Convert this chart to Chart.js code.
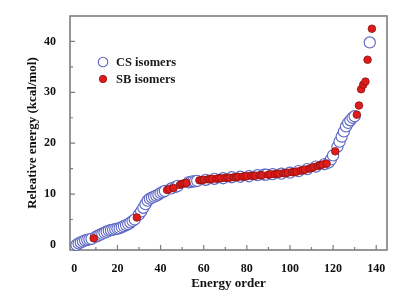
<!DOCTYPE html>
<html>
<head>
<meta charset="utf-8">
<script src="https://cdn.jsdelivr.net/npm/chart.js@4.4.1/dist/chart.umd.min.js"></script>
<style>
  html, body { margin: 0; padding: 0; background: #fff; }
  #wrap { width: 399px; height: 300px; }
</style>
</head>
<body>
<div id="wrap"><canvas id="chart" width="399" height="300"></canvas></div>
<script>
// Energy order of each isomer and its relative energy (kcal/mol)
const csOrder = [1, 2, 3, 4, 5, 6, 7, 8,
    10, 11, 12, 13, 14, 15, 16, 17, 18, 19, 20, 21, 22, 23, 24, 25, 26, 27, 28,
    30, 31, 32, 33, 34, 35, 36, 37, 38, 39, 40, 41, 42,
    45, 47, 48, 53, 54, 55, 56, 57,
    61, 65, 69, 73, 77, 81, 85, 88, 89, 92, 96, 100, 104, 108, 112, 116,
    118, 119, 120, 122, 123, 124, 125, 126, 127, 128, 129, 130, 137];
const csEnergy = [0.0, 0.3, 0.5, 0.7, 0.9, 1.0, 1.1, 1.2,
    1.6, 1.8, 2.0, 2.2, 2.4, 2.6, 2.8, 2.9, 3.0, 3.1, 3.2, 3.3, 3.5, 3.7, 3.9, 4.1, 4.4, 4.7, 5.0,
    6.0, 6.6, 7.3, 8.0, 8.7, 9.1, 9.3, 9.5, 9.7, 9.9, 10.2, 10.4, 10.6,
    11.1, 11.4, 11.6, 12.3, 12.4, 12.5, 12.5, 12.6,
    12.8, 13.0, 13.1, 13.3, 13.4, 13.5, 13.7, 13.8, 13.8, 13.9, 14.0, 14.2, 14.5, 14.9, 15.4, 15.9,
    16.2, 16.8, 17.6, 19.3, 20.3, 21.3, 22.3, 23.3, 24.0, 24.5, 25.0, 25.3, 39.8];

const sbOrder = [9, 29, 43, 44, 46, 49, 50, 51, 52,
    58, 59, 60, 62, 63, 64, 66, 67, 68, 70, 71, 72, 74, 75, 76, 78, 79, 80,
    82, 83, 84, 86, 87, 90, 91, 93, 94, 95, 97, 98, 99, 101, 102, 103,
    105, 106, 107, 109, 110, 111, 113, 114, 115, 117, 121,
    131, 132, 133, 134, 135, 136, 138];
const sbEnergy = [1.3, 5.4, 10.8, 11.0, 11.2, 11.8, 12.0, 12.1, 12.2,
    12.7, 12.7, 12.8, 12.9, 12.9, 13.0, 13.0, 13.1, 13.1, 13.2, 13.2, 13.2, 13.3, 13.3, 13.4, 13.4, 13.5, 13.5,
    13.6, 13.6, 13.6, 13.7, 13.7, 13.8, 13.9, 13.9, 14.0, 14.0, 14.1, 14.1, 14.2, 14.3, 14.3, 14.4,
    14.6, 14.7, 14.8, 15.0, 15.1, 15.3, 15.5, 15.7, 15.8, 16.0, 18.4,
    25.6, 27.4, 30.6, 31.5, 32.1, 36.4, 42.5];

// Tick marks
const xTicks = [0, 20, 40, 60, 80, 100, 120, 140];
const xMinor = [10, 30, 50, 70, 90, 110, 130];
const yTicks = [0, 10, 20, 30, 40];
const yMinor = [5, 15, 25, 35];

const serif = "'Liberation Serif', 'DejaVu Serif', serif";

// Frame round the plot with tick marks pointing inwards
const framePlugin = {
    id: 'frame',
    beforeDatasetsDraw(chart) {
        const { ctx, chartArea: a, scales: { x, y } } = chart;
        ctx.save();
        ctx.strokeStyle = '#7d7d7d';
        ctx.lineWidth = 1.6;
        ctx.strokeRect(a.left, a.top, a.right - a.left, a.bottom - a.top);
        ctx.lineWidth = 1.2;
        ctx.beginPath();
        xTicks.forEach(v => { const p = x.getPixelForValue(v); ctx.moveTo(p, a.bottom); ctx.lineTo(p, a.bottom - 5); });
        xMinor.forEach(v => { const p = x.getPixelForValue(v); ctx.moveTo(p, a.bottom); ctx.lineTo(p, a.bottom - 3); });
        yTicks.forEach(v => { const p = y.getPixelForValue(v); ctx.moveTo(a.left, p); ctx.lineTo(a.left + 5, p); });
        yMinor.forEach(v => { const p = y.getPixelForValue(v); ctx.moveTo(a.left, p); ctx.lineTo(a.left + 3, p); });
        ctx.stroke();
        ctx.restore();
    }
};

// Legend inside the plot, upper left
const legendPlugin = {
    id: 'innerLegend',
    afterDraw(chart) {
        const ctx = chart.ctx;
        ctx.save();
        ctx.textBaseline = 'middle';

        ctx.beginPath();
        ctx.arc(103, 62, 4.8, 0, Math.PI * 2);
        ctx.fillStyle = '#fff';
        ctx.fill();
        ctx.strokeStyle = '#5a64c2';
        ctx.lineWidth = 1.1;
        ctx.stroke();

        ctx.beginPath();
        ctx.arc(103, 79, 3.7, 0, Math.PI * 2);
        ctx.fillStyle = '#e01b1b';
        ctx.fill();
        ctx.strokeStyle = '#8a1010';
        ctx.lineWidth = 0.8;
        ctx.stroke();

        ctx.font = 'bold 12.5px ' + serif;
        ctx.fillStyle = '#1a1a1a';
        ctx.fillText('CS isomers', 116, 63);
        ctx.fillText('SB isomers', 116, 80);
        ctx.restore();
    }
};

const toPoints = (xs, ys) => xs.map((v, i) => ({ x: v, y: ys[i] }));

new Chart(document.getElementById('chart'), {
    type: 'scatter',
    data: {
        datasets: [
            {
                label: 'SB isomers',
                data: toPoints(sbOrder, sbEnergy),
                order: 0,
                pointRadius: 3.8,
                pointBackgroundColor: '#e01b1b',
                pointBorderColor: '#8a1010',
                pointBorderWidth: 0.8,
                clip: false,
            },
            {
                label: 'CS isomers',
                data: toPoints(csOrder, csEnergy),
                order: 1,
                pointRadius: 5.6,
                pointBackgroundColor: '#ffffff',
                pointBorderColor: '#5a64c2',
                pointBorderWidth: 1.1,
                clip: false,
            },
        ]
    },
    options: {
        responsive: false,
        animation: false,
        events: [],
        layout: { padding: { top: 16, right: 12, left: 0, bottom: 0 } },
        plugins: {
            legend: { display: false },
            tooltip: { enabled: false },
        },
        scales: {
            x: {
                type: 'linear',
                min: -2,
                max: 145,
                afterFit: s => { s.height = 50; },
                afterBuildTicks: s => { s.ticks = xTicks.map(v => ({ value: v })); },
                grid: { display: false },
                border: { display: false },
                ticks: {
                    padding: 4,
                    color: '#111',
                    font: { family: serif, size: 12, weight: 'bold' },
                },
                title: {
                    display: true,
                    text: 'Energy order',
                    color: '#111',
                    padding: { top: 0, bottom: 9 },
                    font: { family: serif, size: 13, weight: 'bold' },
                },
            },
            y: {
                type: 'linear',
                min: -1,
                max: 45,
                afterFit: s => { s.width = 70; },
                afterBuildTicks: s => { s.ticks = yTicks.map(v => ({ value: v })); },
                grid: { display: false },
                border: { display: false },
                ticks: {
                    padding: 6,
                    color: '#111',
                    font: { family: serif, size: 12, weight: 'bold' },
                },
                title: {
                    display: true,
                    text: 'Releative energy (kcal/mol)',
                    color: '#111',
                    padding: { top: 25, bottom: 0 },
                    font: { family: serif, size: 13, weight: 'bold' },
                },
            },
        },
    },
    plugins: [framePlugin, legendPlugin],
});
</script>
</body>
</html>
